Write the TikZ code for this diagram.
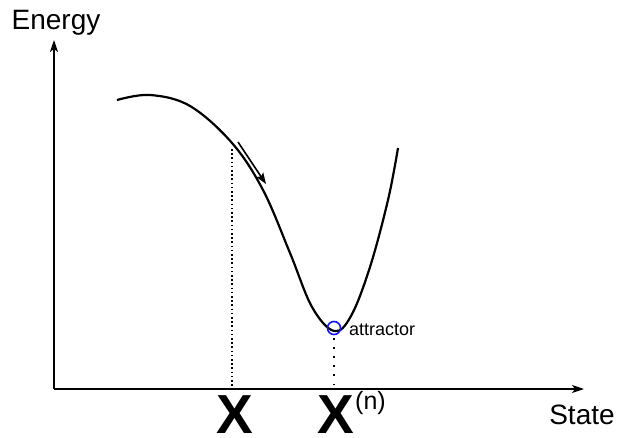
\documentclass[tikz,border=0pt]{standalone}
\usepackage{fontspec}
\setmainfont{Liberation Sans}
\usetikzlibrary{arrows.meta,positioning}
\definecolor{attrblue}{RGB}{20,20,240}
\tikzset{
  axis line/.style={-{Stealth[length=12pt,width=8pt,inset=3pt]}, line width=1.6pt},
  energy curve/.style={line width=2.2pt},
  slide arrow/.style={-{Stealth[length=11pt,width=8pt,inset=2pt]}, line width=1.6pt},
  drop line/.style={line width=1.8pt, dash pattern=on 1.6pt off 2.6pt},
  drop line sparse/.style={line width=1.8pt, dash pattern=on 1.6pt off 7.5pt},
  axis label/.style={font=\fontsize{28}{32}\selectfont, inner sep=0pt},
  big label/.style={font=\fontsize{55}{60}\selectfont\bfseries, inner sep=0pt},
  attr mark/.style={draw=attrblue, circle, line width=1.6pt, minimum size=13pt, inner sep=0pt},
}

\begin{document}
\begin{tikzpicture}[x=1pt, y=-1pt]
  \useasboundingbox (0,0) rectangle (620,438);
  % axes
  \coordinate (O) at (54,389);
  \coordinate (ytip) at (54,40);
  \coordinate (xtip) at (584,389);
  \draw[axis line] (O) -- (ytip);
  \draw[axis line] (O) -- (xtip);
  \node[axis label, anchor=base] (energy) at (56,30) {Energy};
  \node[axis label, anchor=base] (state) at (582,424) {State};
  % energy landscape
  \draw[energy curve] plot[smooth, tension=0.6] coordinates {
    (117,100) (150,95) (190,106) (232,143) (263,190) (290,253)
    (312,307) (334,331) (351,316) (370,267) (388,200) (398,148)};
  % sliding direction
  \coordinate (slide0) at (238,142);
  \coordinate (slide1) at (266,184);
  \draw[slide arrow] (slide0) -- (slide1);
  % attractor
  \node[attr mark] (attr) at (334,328) {};
  \node[font=\fontsize{18}{20}\selectfont, inner sep=0pt, anchor=base west] (attrtext) at (349,335) {attractor};
  % projections onto the state axis
  \coordinate (xa) at (232,149);
  \coordinate (xb) at (334,338);
  \draw[drop line] (xa) -- (xa |- O);
  \draw[drop line sparse] (xb) -- (xb |- O);
  \node[big label, anchor=base] (xstate) at (235,433) {X};
  \node[big label, anchor=base] (xfix) at (336,433) {X};
  \node[font=\fontsize{25}{28}\selectfont, inner sep=0pt, anchor=base west] (xpow) at (355,409) {(n)};
\end{tikzpicture}
\end{document}
